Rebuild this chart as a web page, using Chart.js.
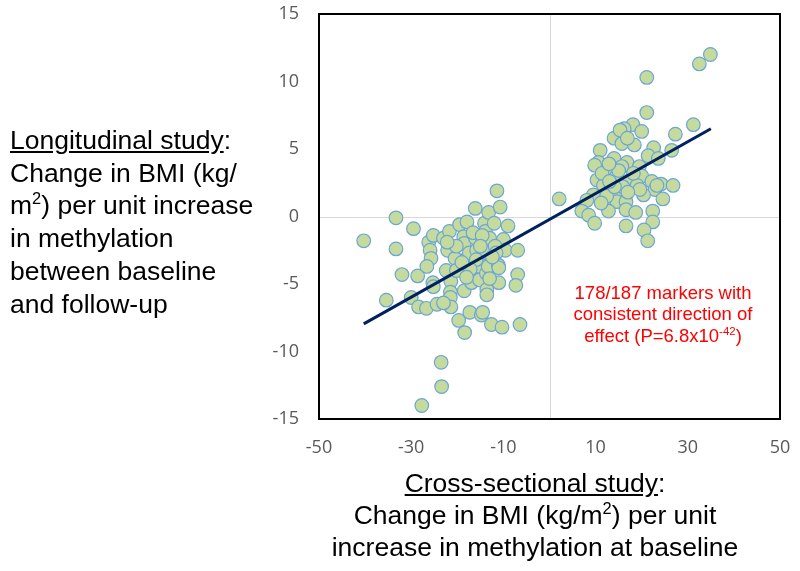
<!DOCTYPE html>
<html>
<head>
<meta charset="utf-8">
<script src="https://cdn.jsdelivr.net/npm/chart.js@4.4.1/dist/chart.umd.min.js"></script>
<style>
  body { margin: 0; background: #fff; }
  #wrap { position: relative; width: 800px; height: 571px; font-family: "Liberation Sans", Arial, sans-serif; }
  #chartBox { position: absolute; left: 0; top: 0; width: 800px; height: 571px; }
  .txt { position: absolute; color: #000; pointer-events: none; white-space: nowrap; }
  .txt sup { font-size: 0.62em; line-height: 0; vertical-align: 0.62em; }
  #yTitle { left: 10px; top: 124px; font-size: 26.5px; line-height: 32.7px; }
  #xTitle { left: 285px; width: 500px; top: 467px; font-size: 26.5px; line-height: 32px; text-align: center; }
  #note { left: 563px; width: 200px; top: 282px; font-size: 18.5px; line-height: 21.3px; text-align: center; color: #ff0000; }
</style>
</head>
<body>
<div id="wrap">
  <div id="chartBox"><canvas id="scatterChart"></canvas></div>
  <div class="txt" id="yTitle"><u>Longitudinal study</u>:<br>Change in BMI (kg/<br>m<sup>2</sup>) per unit increase<br>in methylation<br>between baseline<br>and follow-up</div>
  <div class="txt" id="xTitle"><u>Cross-sectional study</u>:<br>Change in BMI (kg/m<sup>2</sup>) per unit<br>increase in methylation at baseline</div>
  <div class="txt" id="note">178/187 markers with<br>consistent direction of<br>effect (P=6.8x10<sup>-42</sup>)</div>
</div>
<script>
// cross-sectional effect (x) and longitudinal effect (y) per marker
const crossEffect = [
  -40.3, -33.3, -33.3, -29.5, -32.0, -35.4, -30.0, -28.6, -28.4, -26.7,
  -27.7, -23.5, -23.4, -24.4, -26.2, -25.9, -25.7, -26.6, -25.2, -25.3,
  -25.2, -23.0, -22.1, -21.7, -22.4, -21.4, -21.5, -21.5, -21.4, -20.5,
  -19.5, -19.7, -18.4, -18.5, -18.6, -18.5, -17.9, -17.9, -17.4, -17.3,
  -16.9, -16.1, -16.1, -15.8, -15.2, -15.2, -14.8, -14.5, -14.6, -14.1,
  -13.9, -13.7, -13.6, -13.6, -13.3, -13.2, -13.0, -12.6, -12.0, -11.4,
  -11.1, -11.0, -11.0, -10.7, -10.3, -10.0, -9.6, -9.0, -6.9, -6.9,
  -7.3, -6.4, -20.2, -16.6, -13.6, -11.8, -15.9, -13.0, -11.6, -17.2,
  -14.6, -23.0, -20.2, -22.2, -19.0, -15.0, -12.4, -18.0,
  2.1, 34.9, 32.5, 21.1, 21.1, 31.2, 27.3, 18.1, 16.2, 20.0,
  14.0, 15.7, 18.4, 11.0, 22.6, 26.5, 21.4, 23.6, 10.6, 14.0,
  9.8, 16.8, 13.5, 19.5, 14.6, 10.3, 20.0, 17.5, 22.2, 24.2,
  26.8, 11.7, 14.3, 19.0, 22.9, 20.4, 24.6, 9.5, 8.1, 12.1,
  14.6, 16.6, 12.8, 16.6, 18.7, 7.0, 8.5, 9.8, 22.4, 16.6,
  22.4, 20.5, 21.3, 15.7, 12.4, 15.9, 18.2, 15.3, 16.9, 11.4,
  14.1, 23.3, 19.6, 11.2, 13.0, 17.0, 15.0, 12.9
];
const longEffect = [
  -1.8, -0.1, -2.4, -0.9, -4.3, -6.2, -6.0, -4.4, -6.7, -6.8,
  -14.0, -10.8, -12.6, -6.5, -1.9, -2.5, -3.1, -3.7, -1.4, -4.9,
  -5.2, -1.6, -2.5, -1.1, -4.0, -4.8, -5.6, -6.0, -6.7, -3.1,
  -0.6, -7.7, -8.6, -5.5, -1.5, -2.0, -0.4, -3.1, -2.7, -7.1,
  -4.9, 0.6, -1.6, -2.5, -4.7, -3.7, -7.3, -7.1, -2.0, -0.5,
  -1.1, -4.2, -5.4, -5.8, -3.7, 0.3, -1.6, -8.0, -0.5, 1.9,
  -3.6, -4.9, -3.8, 0.7, -8.2, -1.7, -2.5, -0.7, -2.5, -4.3,
  -5.1, -8.0, -2.2, -1.2, -2.7, -2.2, -3.2, -4.6, -2.7, -3.9,
  -1.4, -6.4, -4.0, -1.9, -3.4, -2.2, -3.0, -4.5,
  1.3, 12.0, 11.3, 10.3, 7.7, 6.8, 6.1, 6.8, 6.5, 6.3,
  5.8, 5.4, 5.3, 4.9, 5.1, 4.9, 4.5, 4.3, 4.0, 4.3,
  3.8, 4.0, 3.5, 3.7, 3.0, 2.7, 3.0, 2.7, 2.6, 2.4,
  2.3, 2.3, 1.8, 2.3, 2.0, 1.6, 1.3, 1.6, 1.2, 0.9,
  1.1, 1.1, 0.4, 0.5, 0.3, 0.4, 0.1, -0.5, 0.4, -0.7,
  -0.4, -1.0, -1.8, 3.7, 1.5, 2.2, 3.2, 6.4, 5.8, 3.2,
  2.2, 2.3, 2.0, 1.0, 2.6, 1.8, 3.4, 3.9
];
// fitted trend line end points
const trendX = [-40.3, 35.0];
const trendY = [-7.95, 6.5];

const xTicks = [-50, 50, 20];   // min, max, step
const yTicks = [-15, 15, 5];

const markerPoints = crossEffect.map((x, i) => ({ x: x, y: longEffect[i] }));
const trendPoints = trendX.map((x, i) => ({ x: x, y: trendY[i] }));

// zero lines and black frame round the plot area
const frame = {
  id: 'frame',
  beforeDatasetsDraw(chart) {
    const { ctx, chartArea: a, scales } = chart;
    const x0 = Math.round(scales.x.getPixelForValue(0)) + 0.5;
    const y0 = Math.round(scales.y.getPixelForValue(0)) + 0.5;
    ctx.save();
    ctx.strokeStyle = '#d9d9d9';
    ctx.lineWidth = 1;
    ctx.beginPath();
    ctx.moveTo(x0, a.top); ctx.lineTo(x0, a.bottom);
    ctx.moveTo(a.left, y0); ctx.lineTo(a.right, y0);
    ctx.stroke();
    ctx.restore();
  },
  afterDraw(chart) {
    const { ctx, chartArea: a } = chart;
    ctx.save();
    ctx.strokeStyle = '#000';
    ctx.lineWidth = 2;
    ctx.strokeRect(a.left, a.top, a.right - a.left, a.bottom - a.top);
    ctx.restore();
  }
};

const tickFont = { family: '"Open Sans", sans-serif', size: 18 };

new Chart(document.getElementById('scatterChart'), {
  type: 'scatter',
  data: {
    datasets: [{
      label: 'Markers',
      data: markerPoints,
      backgroundColor: 'rgb(196, 219, 157)',
      borderColor: 'rgb(108, 165, 215)',
      borderWidth: 1.2,
      pointRadius: 6.8,
      order: 2
    }, {
      type: 'line',
      label: 'Trend',
      data: trendPoints,
      borderColor: '#002060',
      borderWidth: 3,
      pointRadius: 0,
      fill: false,
      order: 1
    }]
  },
  options: {
    responsive: true,
    maintainAspectRatio: false,
    animation: false,
    layout: { padding: { left: 250, right: 20, top: 14, bottom: 112 } },
    plugins: {
      legend: { display: false },
      tooltip: { enabled: false }
    },
    scales: {
      x: {
        type: 'linear',
        min: xTicks[0], max: xTicks[1],
        ticks: { stepSize: xTicks[2], color: '#595959', font: tickFont, padding: 18, maxRotation: 0 },
        grid: { display: false, drawTicks: false },
        border: { display: false },
        afterFit(scale) { scale.height = 40; scale.paddingLeft = 0; scale.paddingRight = 0; }
      },
      y: {
        type: 'linear',
        min: yTicks[0], max: yTicks[1],
        ticks: { stepSize: yTicks[2], color: '#595959', font: tickFont, padding: 20 },
        grid: { display: false, drawTicks: false },
        border: { display: false },
        afterFit(scale) { scale.width = 69; scale.paddingTop = 0; scale.paddingBottom = 0; }
      }
    }
  },
  plugins: [frame]
});
</script>
</body>
</html>
